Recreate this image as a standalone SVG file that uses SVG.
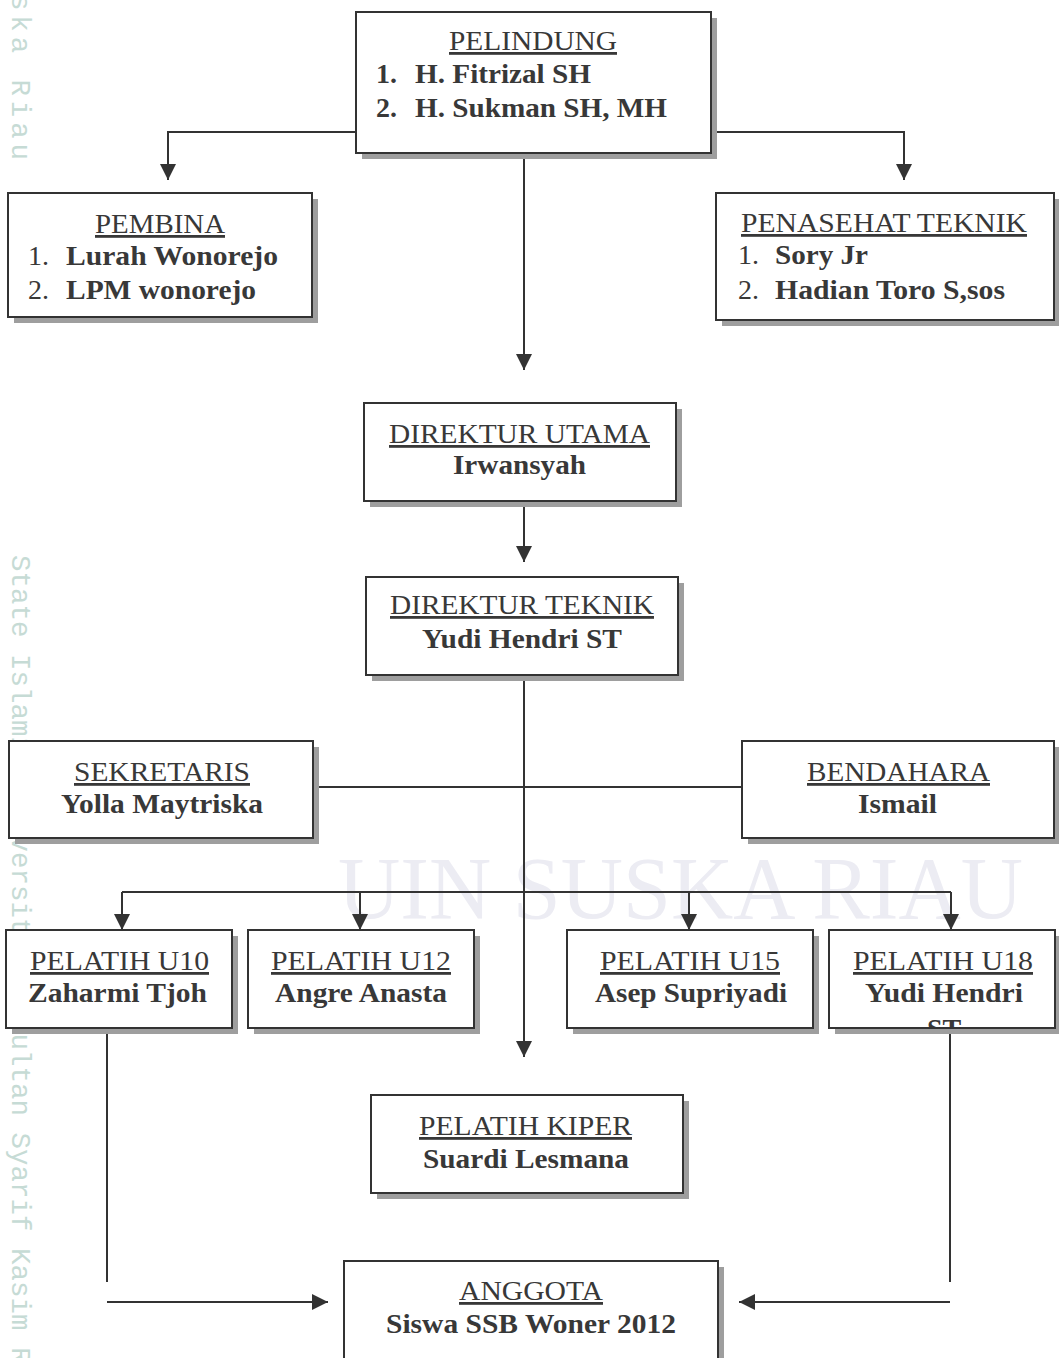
<svg xmlns="http://www.w3.org/2000/svg" width="1059" height="1358" viewBox="0 0 1059 1358">
<defs>
<style>
.bx{fill:#fff;stroke:#333;stroke-width:2}
.sh{fill:#9e9e9e}
.t{font-family:"Liberation Serif","Times New Roman",serif;font-size:28px;fill:#383838}
.h{text-decoration:underline}
.b{font-weight:bold}
.ln{fill:none;stroke:#333;stroke-width:2}
.wm{font-family:"Liberation Mono","Courier New",monospace;font-size:27.5px;fill:#c6dbd5}
.wm2{font-family:"Liberation Serif",serif;font-size:88px;fill:#ececf3}
</style>
<marker id="ar" viewBox="0 0 10 10" refX="10" refY="5" markerWidth="8" markerHeight="8" markerUnits="strokeWidth" orient="auto">
<path d="M0,0 L10,5 L0,10 Z" fill="#333"/>
</marker>
<clipPath id="clipU18"><rect x="829" y="930" width="226" height="97"/></clipPath>
</defs>
<rect width="1059" height="1358" fill="#fff"/>
<g id="watermark">
<text class="wm" transform="translate(12,0) rotate(90)" x="-6" y="0" textLength="166" lengthAdjust="spacing">ska Riau</text>
<text class="wm" transform="translate(12,0) rotate(90)" x="555" y="0">State Islamic University of Sultan Syarif Kasim Riau</text>
<text class="wm2" x="338" y="918" textLength="685" lengthAdjust="spacingAndGlyphs">UIN SUSKA RIAU</text>
</g>
<g id="connectors">
<polyline class="ln" points="356,132 168,132 168,180" marker-end="url(#ar)"/>
<polyline class="ln" points="711,132 904,132 904,180" marker-end="url(#ar)"/>
<line class="ln" x1="524" y1="153" x2="524" y2="370" marker-end="url(#ar)"/>
<line class="ln" x1="524" y1="501" x2="524" y2="562" marker-end="url(#ar)"/>
<line class="ln" x1="524" y1="675" x2="524" y2="1057" marker-end="url(#ar)"/>
<line class="ln" x1="313" y1="787" x2="742" y2="787"/>
<line class="ln" x1="122" y1="892" x2="951" y2="892"/>
<line class="ln" x1="122" y1="892" x2="122" y2="930" marker-end="url(#ar)"/>
<line class="ln" x1="360" y1="892" x2="360" y2="930" marker-end="url(#ar)"/>
<line class="ln" x1="689" y1="892" x2="689" y2="930" marker-end="url(#ar)"/>
<line class="ln" x1="951" y1="892" x2="951" y2="930" marker-end="url(#ar)"/>
<line class="ln" x1="107" y1="1028" x2="107" y2="1282"/>
<line class="ln" x1="107" y1="1302" x2="328" y2="1302" marker-end="url(#ar)"/>
<line class="ln" x1="950" y1="1028" x2="950" y2="1282"/>
<line class="ln" x1="950" y1="1302" x2="739" y2="1302" marker-end="url(#ar)"/>
</g>
<g id="pelindung">
<rect class="sh" x="362" y="18" width="355" height="141"/>
<rect class="bx" x="356" y="12" width="355" height="141"/>
<text class="t h" x="449" y="50" textLength="168" lengthAdjust="spacingAndGlyphs">PELINDUNG</text>
<text class="t b" x="376" y="83">1.</text>
<text class="t b" x="415" y="83" textLength="176" lengthAdjust="spacingAndGlyphs">H. Fitrizal SH</text>
<text class="t b" x="376" y="117">2.</text>
<text class="t b" x="415" y="117" textLength="252" lengthAdjust="spacingAndGlyphs">H. Sukman SH, MH</text>
</g>
<g id="pembina">
<rect class="sh" x="14" y="199" width="304" height="124"/>
<rect class="bx" x="8" y="193" width="304" height="124"/>
<text class="t h" x="95" y="233" textLength="130" lengthAdjust="spacingAndGlyphs">PEMBINA</text>
<text class="t" x="28" y="265">1.</text>
<text class="t b" x="66" y="265" textLength="212" lengthAdjust="spacingAndGlyphs">Lurah Wonorejo</text>
<text class="t" x="28" y="299">2.</text>
<text class="t b" x="66" y="299" textLength="190" lengthAdjust="spacingAndGlyphs">LPM wonorejo</text>
</g>
<g id="penasehat">
<rect class="sh" x="722" y="199" width="338" height="127"/>
<rect class="bx" x="716" y="193" width="338" height="127"/>
<text class="t h" x="741" y="232" textLength="286" lengthAdjust="spacingAndGlyphs">PENASEHAT TEKNIK</text>
<text class="t" x="738" y="264">1.</text>
<text class="t b" x="775" y="264" textLength="93" lengthAdjust="spacingAndGlyphs">Sory Jr</text>
<text class="t" x="738" y="299">2.</text>
<text class="t b" x="775" y="299" textLength="230" lengthAdjust="spacingAndGlyphs">Hadian Toro S,sos</text>
</g>
<g id="direktur-utama">
<rect class="sh" x="370" y="409" width="312" height="98"/>
<rect class="bx" x="364" y="403" width="312" height="98"/>
<text class="t h" x="389" y="443" textLength="261" lengthAdjust="spacingAndGlyphs">DIREKTUR UTAMA</text>
<text class="t b" x="453" y="474" textLength="133" lengthAdjust="spacingAndGlyphs">Irwansyah</text>
</g>
<g id="direktur-teknik">
<rect class="sh" x="372" y="583" width="312" height="98"/>
<rect class="bx" x="366" y="577" width="312" height="98"/>
<text class="t h" x="390" y="614" textLength="264" lengthAdjust="spacingAndGlyphs">DIREKTUR TEKNIK</text>
<text class="t b" x="422" y="648" textLength="200" lengthAdjust="spacingAndGlyphs">Yudi Hendri ST</text>
</g>
<g id="sekretaris">
<rect class="sh" x="15" y="747" width="304" height="97"/>
<rect class="bx" x="9" y="741" width="304" height="97"/>
<text class="t h" x="74" y="781" textLength="176" lengthAdjust="spacingAndGlyphs">SEKRETARIS</text>
<text class="t b" x="61" y="813" textLength="202" lengthAdjust="spacingAndGlyphs">Yolla Maytriska</text>
</g>
<g id="bendahara">
<rect class="sh" x="748" y="747" width="312" height="97"/>
<rect class="bx" x="742" y="741" width="312" height="97"/>
<text class="t h" x="807" y="781" textLength="183" lengthAdjust="spacingAndGlyphs">BENDAHARA</text>
<text class="t b" x="858" y="813" textLength="79" lengthAdjust="spacingAndGlyphs">Ismail</text>
</g>
<g id="pelatih-u10">
<rect class="sh" x="12" y="936" width="226" height="98"/>
<rect class="bx" x="6" y="930" width="226" height="98"/>
<text class="t h" x="30" y="970" textLength="179" lengthAdjust="spacingAndGlyphs">PELATIH U10</text>
<text class="t b" x="28" y="1002" textLength="179" lengthAdjust="spacingAndGlyphs">Zaharmi Tjoh</text>
</g>
<g id="pelatih-u12">
<rect class="sh" x="254" y="936" width="226" height="98"/>
<rect class="bx" x="248" y="930" width="226" height="98"/>
<text class="t h" x="271" y="970" textLength="180" lengthAdjust="spacingAndGlyphs">PELATIH U12</text>
<text class="t b" x="275" y="1002" textLength="172" lengthAdjust="spacingAndGlyphs">Angre Anasta</text>
</g>
<g id="pelatih-u15">
<rect class="sh" x="573" y="936" width="246" height="98"/>
<rect class="bx" x="567" y="930" width="246" height="98"/>
<text class="t h" x="600" y="970" textLength="180" lengthAdjust="spacingAndGlyphs">PELATIH U15</text>
<text class="t b" x="595" y="1002" textLength="192" lengthAdjust="spacingAndGlyphs">Asep Supriyadi</text>
</g>
<g id="pelatih-u18">
<rect class="sh" x="835" y="936" width="226" height="98"/>
<rect class="bx" x="829" y="930" width="226" height="98"/>
<text class="t h" x="853" y="970" textLength="180" lengthAdjust="spacingAndGlyphs">PELATIH U18</text>
<text class="t b" x="865" y="1002" textLength="158" lengthAdjust="spacingAndGlyphs">Yudi Hendri</text>
<g clip-path="url(#clipU18)"><text class="t b" x="944" y="1038" text-anchor="middle">ST</text></g>
</g>
<g id="pelatih-kiper">
<rect class="sh" x="377" y="1101" width="312" height="98"/>
<rect class="bx" x="371" y="1095" width="312" height="98"/>
<text class="t h" x="419" y="1135" textLength="213" lengthAdjust="spacingAndGlyphs">PELATIH KIPER</text>
<text class="t b" x="423" y="1168" textLength="206" lengthAdjust="spacingAndGlyphs">Suardi Lesmana</text>
</g>
<g id="anggota">
<rect class="sh" x="350" y="1267" width="374" height="120"/>
<rect class="bx" x="344" y="1261" width="374" height="120"/>
<text class="t h" x="459" y="1300" textLength="144" lengthAdjust="spacingAndGlyphs">ANGGOTA</text>
<text class="t b" x="386" y="1333" textLength="290" lengthAdjust="spacingAndGlyphs">Siswa SSB Woner 2012</text>
</g>
</svg>
